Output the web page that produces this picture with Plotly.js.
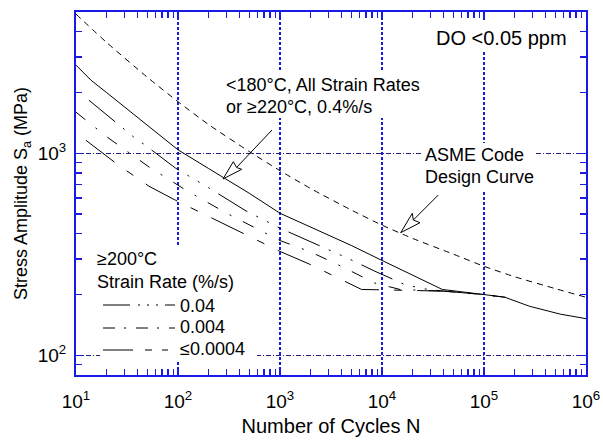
<!DOCTYPE html>
<html>
<head>
<meta charset="utf-8">
<script src="https://cdn.plot.ly/plotly-3.0.1.min.js"></script>
<style>html,body{margin:0;padding:0;background:#fff;}#chart{width:603px;height:443px;}</style>
</head>
<body>
<div id="chart"></div>
<script>
// ---- data ----
const cyclesASME = [10, 20, 50, 100, 200, 500, 1000, 2000, 5000, 1e4, 2e4, 5e4, 1e5, 2e5, 5e5, 1e6];
const stressASME = [4881, 3530, 2379, 1800, 1386, 1020, 820, 669, 524, 441, 379, 317, 276, 245, 214, 194];

const cyclesLow = [10, 14, 20, 50, 100, 200, 500, 1000, 2000, 5000, 1e4, 2e4, 3.9e4, 1e5, 1.6e5, 2.8e5, 5.6e5, 1e6];
const stressLow = [2730, 2300, 1995, 1384, 1040, 840, 634, 505, 431, 350, 295, 250, 212, 200, 194, 175, 160, 152];

const cycles004 = [13.4, 25, 37, 46.5, 95, 200, 454, 1000, 1970, 4650, 8500, 1.29e4, 1.65e4, 2.5e4, 4e4, 1e5, 1.6e5];
const stress004 = [1830, 1408, 1200, 1108, 843, 675, 522, 426, 367, 302, 261, 238, 225, 214, 208, 200, 194];

const cycles0004 = [10, 19.7, 50.9, 120, 300, 1000, 1970, 4050, 8500, 1.5e4, 4e4, 1e5, 1.6e5];
const stress0004 = [1597, 1214, 862, 656, 505, 370, 326, 275, 228, 212, 208, 200, 194];

const cycles00004 = [12.5, 24.7, 38.8, 52, 95, 300, 1000, 1970, 4340, 6300, 1e4, 2e4, 4e4, 1e5, 1.6e5];
const stress00004 = [1160, 892, 760, 687, 585, 440, 327, 282, 232, 212, 211, 210, 208, 200, 194];

const xTickVals = [10, 100, 1000, 10000, 100000, 1000000];
const xTickText = ['10<sup>1</sup>', '10<sup>2</sup>', '10<sup>3</sup>', '10<sup>4</sup>', '10<sup>5</sup>', '10<sup>6</sup>'];
const yTickVals = [100, 1000];
const yTickText = ['10<sup>2</sup>', '10<sup>3</sup>'];

const legendLabels = ['0.04', '0.004', '\u22640.0004'];

// ---- styling ----
const BLUE = '#1a1ae6';
const FONT = 'Liberation Sans, Arial, Helvetica, sans-serif';
const dash004 = '34px,10px,2px,10px,2px,10px,2px,10px';
const dash0004 = '12px,13px,2px,13px';
const dash00004 = '36px,15px,8px,15px';

const xMinor = [];
for (let d = 1; d < 6; d++) for (let m = 2; m <= 9; m++) xMinor.push(m * Math.pow(10, d));
const yMinor = [90, 200, 300, 400, 500, 600, 700, 800, 900, 2000, 3000, 4000];

function line(x, y, dash) {
  return {x: x, y: y, type: 'scatter', mode: 'lines', hoverinfo: 'skip', showlegend: false,
          line: {color: 'black', width: 1, dash: dash}};
}
const traces = [
  Object.assign(line(cyclesASME, stressASME, '6px,5px'), {line: {color: 'black', width: 1, dash: '6px,5px', shape: 'spline', smoothing: 0.6}}),
  line(cyclesLow, stressLow, 'solid'),
  line(cycles004, stress004, dash004),
  line(cycles0004, stress0004, dash0004),
  line(cycles00004, stress00004, dash00004)
];

// pixel -> paper helpers for decorations (plot area 76..586 x 12..375)
const L = 76, R = 586, T = 12, B = 375;
const X = px => (px - L) / (R - L);
const Y = py => (B - py) / (B - T);

function cover(x0, y0, x1, y1) {
  return {type: 'rect', xref: 'paper', yref: 'paper', x0: X(x0), x1: X(x1), y0: Y(y1), y1: Y(y0),
          fillcolor: 'white', line: {width: 0}, layer: 'above'};
}
function arrowHead(tip, w1, notch, w2) {
  const p = q => X(q[0]).toFixed(5) + ',' + Y(q[1]).toFixed(5);
  return {type: 'path', xref: 'paper', yref: 'paper', layer: 'above',
          path: 'M' + p(tip) + ' L' + p(w1) + ' L' + p(notch) + ' L' + p(w2) + ' Z',
          fillcolor: 'white', line: {color: 'black', width: 1}};
}
function seg(a, b, dash) {
  return {type: 'line', xref: 'paper', yref: 'paper', layer: 'above',
          x0: X(a[0]), y0: Y(a[1]), x1: X(b[0]), y1: Y(b[1]),
          line: {color: 'black', width: 1, dash: dash || 'solid'}};
}

const shapes = [
  cover(100, 247, 257, 362),   // legend area
  cover(222, 72, 422, 118),    // <180°C text
  cover(421, 143, 536, 190),   // ASME text
  cover(432, 22, 572, 50),     // DO text
  seg([272, 130], [236.5, 167.5]),
  arrowHead([223, 179], [233.3, 161.7], [236.5, 167.5], [241.7, 169.3]),
  seg([438.3, 195], [413.3, 220]),
  arrowHead([400.7, 232.7], [412.3, 213.3], [413.3, 220], [420, 222.7]),
  // legend samples
  seg([103, 305], [175, 305], '27px,8px,2px,7px,2px,7px,2px,7px'),
  seg([103, 328], [175, 328], '12px,9px,2px,10px'),
  seg([103, 350], [168, 350], '30px,12px,7px,10px')
];

function txt(text, px, py, size) {
  return {text: text, xref: 'paper', yref: 'paper', x: X(px), y: Y(py), xanchor: 'left', yanchor: 'middle',
          showarrow: false, font: {family: FONT, size: size || 18, color: 'black'}};
}
const annotations = [
  txt('DO &lt;0.05 ppm', 434, 38, 20),
  txt('&lt;180°C, All Strain Rates', 224, 85),
  txt('or \u2265220°C, 0.4%/s', 224, 107),
  txt('ASME Code', 423, 155),
  txt('Design Curve', 423, 177),
  txt('\u2265200°C', 95, 259),
  txt('Strain Rate (%/s)', 95, 282),
  txt(legendLabels[0], 178, 306),
  txt(legendLabels[1], 178, 327),
  txt(legendLabels[2], 178, 349)
];

const layout = {
  width: 603, height: 443,
  margin: {l: L, r: 603 - R, t: T, b: 443 - B},
  paper_bgcolor: 'white', plot_bgcolor: 'white',
  showlegend: false,
  font: {family: FONT, color: 'black'},
  xaxis: {
    type: 'log', range: [1, 6], autorange: false,
    tickmode: 'array', tickvals: xTickVals, ticktext: xTickText,
    ticks: 'inside', ticklen: 7, tickwidth: 1.5, tickcolor: BLUE,
    showline: true, linecolor: BLUE, linewidth: 2, mirror: 'ticks',
    showgrid: true, gridcolor: BLUE, gridwidth: 2, griddash: '3px,2px',
    zeroline: false,
    minor: {tickmode: 'array', tickvals: xMinor, ticks: 'inside', ticklen: 6, tickwidth: 1.5, tickcolor: BLUE, showgrid: false},
    tickfont: {family: FONT, size: 19, color: 'black'},
    ticklabelstandoff: 8,
    title: {text: 'Number of Cycles N', font: {family: FONT, size: 20, color: 'black'}, standoff: 8}
  },
  yaxis: {
    type: 'log', range: [Math.log10(80), Math.log10(5000)], autorange: false,
    tickmode: 'array', tickvals: yTickVals, ticktext: yTickText,
    ticks: 'inside', ticklen: 7, tickwidth: 1.5, tickcolor: BLUE,
    showline: true, linecolor: BLUE, linewidth: 2, mirror: 'ticks',
    showgrid: true, gridcolor: '#202080', gridwidth: 1, griddash: '5px,2px,1px,2px',
    zeroline: false,
    minor: {tickmode: 'array', tickvals: yMinor, ticks: 'inside', ticklen: 6, tickwidth: 1.5, tickcolor: BLUE, showgrid: false},
    tickfont: {family: FONT, size: 19, color: 'black'},
    ticklabelstandoff: 4,
    title: {text: 'Stress Amplitude S<sub>a</sub> (MPa)', font: {family: FONT, size: 18, color: 'black'}, standoff: 5}
  },
  shapes: shapes,
  annotations: annotations
};

Plotly.newPlot('chart', traces, layout, {staticPlot: true, displayModeBar: false});
</script>
</body>
</html>
